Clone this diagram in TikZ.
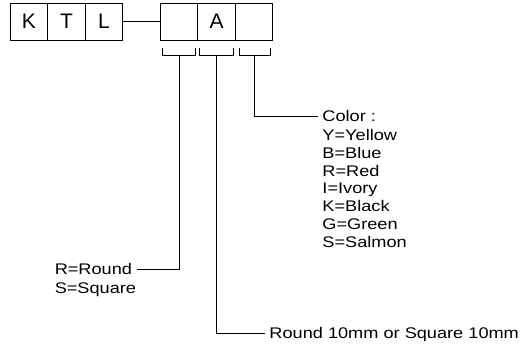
\documentclass[tikz,border=0pt]{standalone}
\usepackage{fontspec}
\setmainfont{Liberation Sans}[FakeStretch=1.18]
\newfontfamily\cellfont{Liberation Sans}
\usepackage{tikz}
\usetikzlibrary{positioning}

\begin{document}
\begin{tikzpicture}[
		x=1pt, y=-1pt,
		line width=0.9pt,
		every node/.style={font=\fontsize{15.4}{17.8}\selectfont},
		cell/.style={draw, minimum width=37.5pt, minimum height=37pt, inner sep=0pt, outer sep=0pt,
				font=\cellfont\fontsize{21}{24}\selectfont},
		txt/.style={inner xsep=4.5pt, inner ysep=0pt, text depth=0pt, align=left}
	]
	\useasboundingbox (0,0) rectangle (524,351);

	% code boxes
	\node[cell] (k) at (29,21.5) {K};
	\node[cell, right=0pt of k] (t) {T};
	\node[cell, right=0pt of t] (l) {L};
	\node[cell] (shape) at (179,21.5) {};
	\node[cell, right=0pt of shape] (size) {A};
	\node[cell, right=0pt of size] (color) {};
	\draw (l) -- (shape);

	% brackets under the open fields
	\draw (162,48) |- (195,55) -- (195,48);
	\draw (199,48) |- (233,55) -- (233,48);
	\draw (239,48) |- (270,55) -- (270,48);
	\coordinate (s1) at (179,55);
	\coordinate (s2) at (216,55);
	\coordinate (s3) at (254.5,55);

	% legends
	\node[txt, anchor=west] (colorhead) at (317.5,116) {Color :};
	\node[txt, below=6.8pt of colorhead.south west, anchor=north west] (colorlist) {%
		Y=Yellow \\ B=Blue \\ R=Red \\ I=Ivory \\ K=Black \\ G=Green \\ S=Salmon};
	\node[txt, anchor=east] (round) at (137,269) {R=Round};
	\node[txt, below=6.8pt of round.south west, anchor=north west] (square) {S=Square};
	\node[txt, anchor=west] (sizetxt) at (264.5,333) {Round 10mm or Square 10mm};

	\draw (s3) |- (colorhead.west);
	\draw (s1) |- (round.east);
	\draw (s2) |- (sizetxt.west);
\end{tikzpicture}
\end{document}
